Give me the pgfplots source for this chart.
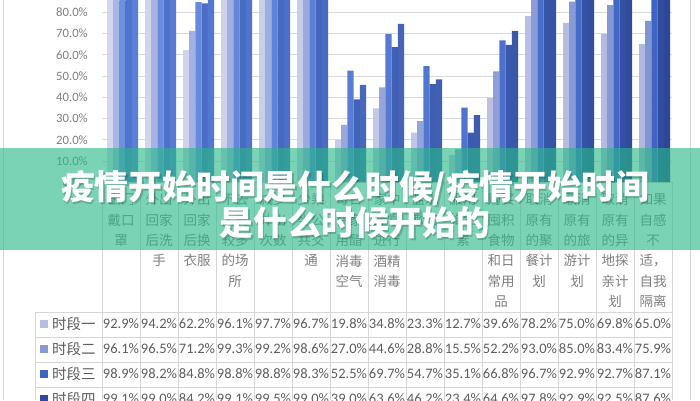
\documentclass[border=0pt]{standalone}
\usepackage{fontspec}
\setmainfont{Carlito}
\newfontfamily\cjk{Noto Sans CJK SC}
\usepackage{pgfplots}
\pgfplotsset{compat=1.18}
\usepackage{pgfplotstable}

\definecolor{gridc}{HTML}{D9D9D9}
\definecolor{linec}{HTML}{D6D6D6}
\definecolor{txtc}{HTML}{808080}
\definecolor{valc}{HTML}{5E5E5E}
\definecolor{banner}{RGB}{40,185,135}
\definecolor{sAa}{HTML}{D4D8EF}\definecolor{sAb}{HTML}{B0B8E1}
\definecolor{sBa}{HTML}{A9B6E5}\definecolor{sBb}{HTML}{8295D3}
\definecolor{sCa}{HTML}{6D90E1}\definecolor{sCb}{HTML}{3E64C5}
\definecolor{sDa}{HTML}{5074CD}\definecolor{sDb}{HTML}{2F4D9F}
\definecolor{sEa}{HTML}{5B80DB}\definecolor{sEb}{HTML}{2B4795}
\definecolor{kA}{HTML}{B6BEE2}
\definecolor{kB}{HTML}{8898D2}
\definecolor{kC}{HTML}{3B63C2}
\definecolor{kD}{HTML}{2D4B9C}

% share of respondents (%), five periods; period 5
\pgfplotstableread{
x  s1   s2   s3   s4   s5
0  92.9 96.1 98.9 99.1 99.3
1  94.2 96.5 98.2 99.0 99.2
2  62.2 71.2 84.8 84.2 93.0
3  96.1 99.3 98.8 99.1 99.5
4  97.7 99.2 98.8 99.5 99.6
5  96.7 98.6 98.3 99.0 99.2
6  19.8 27.0 52.5 39.0 45.8
7  34.8 44.6 69.7 63.6 74.5
8  23.3 28.8 54.7 46.2 48.4
9  12.7 15.5 35.1 23.4 31.6
10 39.6 52.2 66.8 64.6 71.3
11 78.2 93.0 96.7 97.8 98.0
12 75.0 85.0 92.9 92.9 94.0
13 69.8 83.4 92.7 92.5 94.0
14 65.0 75.9 87.1 87.6 90.0
}\data

\begin{document}
\begin{tikzpicture}[x=1pt,y=1pt]
\useasboundingbox (0,0) rectangle (700,400);
\clip (0,0) rectangle (700,400);
\fill[white] (0,0) rectangle (700,400);

% data table grid
\draw[linec] (3,0) -- (3,400);
\draw[linec] (690,0) -- (690,400);
\foreach \yy in {88,63,38,13} \draw[linec] (35,\yy) -- (672,\yy);
\draw[linec] (35,0) -- (35,88);
\foreach \k in {0,...,15} \draw[linec] ({102+38*\k},0) -- ({102+38*\k},217.8);
\draw[linec] (102,217.8) -- (672,217.8);

\begin{axis}[
  at={(102pt,217.8pt)}, anchor=south west,
  scale only axis, width=570pt, height=212.4pt,
  xmin=-0.5, xmax=14.5, ymin=0, ymax=100,
  axis line style={draw=none},
  tick style={draw=none},
  ymajorgrids, grid style={gridc, line width=0.8pt},
  ytick={0,10,...,100},
  /pgf/number format/assume math mode=true,
  yticklabel={\pgfmathprintnumber[fixed,fixed zerofill,precision=1]{\tick}\%},
  yticklabel style={font=\fontsize{12.7}{14}\selectfont, text=txtc, inner sep=0pt, xshift=-14pt, anchor=east},
  xtick={0,...,14},
  xticklabels={{出门\\戴口\\罩},{外出\\回家\\后洗\\手},{外出\\回家\\后换\\衣服},
    {不去\\人员\\较多\\的场\\所},{减少\\外出\\次数},{少乘\\坐公\\共交\\通},
    {每日\\在家\\用醋\\消毒\\空气},{家中\\经常\\进行\\酒精\\消毒},{盐水\\漱口},
    {服用\\维生\\素},{购买\\囤积\\食物\\和日\\常用\\品},{取消\\原有\\的聚\\餐计\\划},
    {取消\\原有\\的旅\\游计\\划},{取消\\原有\\的异\\地探\\亲计\\划},{如果\\自感\\不\\适，\\自我\\隔离}},
  xticklabel style={font=\cjk\fontsize{13.5}{20.4}\selectfont, text=txtc, align=center,
    anchor=north, inner sep=0pt, yshift=-11pt},
]
\addplot[ybar, bar width=6.2pt, bar shift=-10.9pt, draw=none, left color=sAa, right color=sAb] table[x=x,y=s1]{\data};
\addplot[ybar, bar width=6.2pt, bar shift=-4.7pt,  draw=none, left color=sBa, right color=sBb] table[x=x,y=s2]{\data};
\addplot[ybar, bar width=6.2pt, bar shift=1.5pt,   draw=none, left color=sCa, right color=sCb] table[x=x,y=s3]{\data};
\addplot[ybar, bar width=6.2pt, bar shift=7.7pt,   draw=none, left color=sDa, right color=sDb] table[x=x,y=s4]{\data};
\addplot[ybar, bar width=6.2pt, bar shift=13.9pt,  draw=none, left color=sEa, right color=sEb] table[x=x,y=s5]{\data};
\end{axis}

% data table rows
\tikzset{val/.style={font=\fontsize{14.5}{16}\selectfont, text=valc, inner sep=0pt},
         lab/.style={font=\cjk\fontsize{14.5}{16}\selectfont, text=valc, inner sep=0pt, anchor=west}}
\fill[kA] (40,72) rectangle (48,80); \node[lab] at (52,76) {时段一};
\fill[kB] (40,47) rectangle (48,55); \node[lab] at (52,51) {时段二};
\fill[kC] (40,22) rectangle (48,30); \node[lab] at (52,26) {时段三};
\fill[kD] (40,-3) rectangle (48,5);  \node[lab] at (52,1)  {时段四};
\foreach \v [count=\i from 0] in {92.9,94.2,62.2,96.1,97.7,96.7,19.8,34.8,23.3,12.7,39.6,78.2,75.0,69.8,65.0}
  \node[val] at ({121+38*\i},76) {\v\%};
\foreach \v [count=\i from 0] in {96.1,96.5,71.2,99.3,99.2,98.6,27.0,44.6,28.8,15.5,52.2,93.0,85.0,83.4,75.9}
  \node[val] at ({121+38*\i},51) {\v\%};
\foreach \v [count=\i from 0] in {98.9,98.2,84.8,98.8,98.8,98.3,52.5,69.7,54.7,35.1,66.8,96.7,92.9,92.7,87.1}
  \node[val] at ({121+38*\i},26) {\v\%};
\foreach \v [count=\i from 0] in {99.1,99.0,84.2,99.1,99.5,99.0,39.0,63.6,46.2,23.4,64.6,97.8,92.9,92.5,87.6}
  \node[val] at ({121+38*\i},1) {\v\%};

% title banner
\fill[banner, fill opacity=0.62] (0,150) rectangle (700,252);
\node[text=black, opacity=0.18, font=\cjk\bfseries\fontsize{33.8}{35}\selectfont, align=center] at (356.3,193.8)
  {疫情开始时间是什么时候/疫情开始时间\\是什么时候开始的};
\node[text=white, font=\cjk\bfseries\fontsize{33.8}{35}\selectfont, align=center] at (355,195)
  {疫情开始时间是什么时候/疫情开始时间\\是什么时候开始的};
\end{tikzpicture}
\end{document}
